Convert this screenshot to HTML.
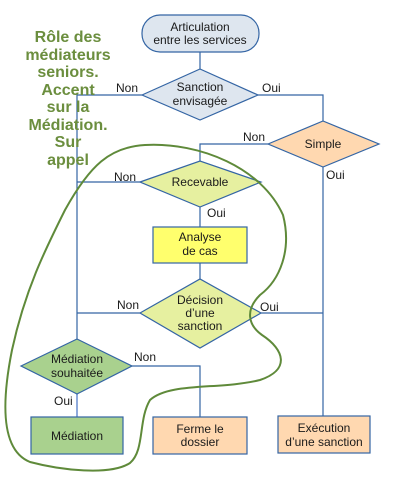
<!DOCTYPE html>
<html><head><meta charset="utf-8"><style>
body{margin:0;background:#fff;}
svg{display:block;font-family:"Liberation Sans",sans-serif;}
</style></head><body>
<svg width="400" height="484" viewBox="0 0 400 484" xmlns="http://www.w3.org/2000/svg">
<g stroke="#3465a4" stroke-width="1.2" fill="none">
<path d="M200 52V69M142 95H77V339M258 95H323V121M268 144H200V161M323 167V416M140 182H77M200 207V227M200 263V279M140 313H77M261 313H323M132 366H200V417"/>
<path d="M77 394V417" stroke="#8faadc" stroke-width="2"/>
</g>
<g stroke="#3465a4" stroke-width="1.2">
<rect x="142" y="15" width="117" height="37" rx="18" fill="#dee6ef"/>
<polygon points="142,95 200,69 258,95 200,120" fill="#dee6ef"/>
<polygon points="268,144 323,121 379,144 323,167" fill="#ffd8b0"/>
<polygon points="140,182 200,161 261,182 200,207" fill="#e6f0a0"/>
<rect x="153" y="227" width="94" height="36" fill="#ffff6d"/>
<polygon points="140,313 200,279 261,313 200,348" fill="#e6f0a0"/>
<polygon points="21,366 77,339 132,366 77,394" fill="#a9d18e"/>
<rect x="31" y="417" width="92" height="37" fill="#a9d18e"/>
<rect x="153" y="417" width="94" height="37" fill="#ffd8b0"/>
<rect x="278" y="416" width="92" height="37" fill="#ffd8b0"/>
</g>
<g font-size="12" fill="#1a1a1a" text-anchor="middle">
<text x="200" y="31">Articulation</text><text x="200" y="44">entre les services</text>
<text x="200" y="91">Sanction</text><text x="200" y="105">envisagée</text>
<text x="323" y="148">Simple</text>
<text x="200" y="186">Recevable</text>
<text x="200" y="241">Analyse</text><text x="200" y="255">de cas</text>
<text x="200" y="304">Décision</text><text x="200" y="317">d’une</text><text x="200" y="330">sanction</text>
<text x="77" y="363">Médiation</text><text x="77" y="377">souhaitée</text>
<text x="77" y="440">Médiation</text>
<text x="200" y="433">Ferme le</text><text x="200" y="446">dossier</text>
<text x="324" y="432">Exécution</text><text x="324" y="446">d’une sanction</text>
</g>
<g font-size="12" fill="#1a1a1a">
<text x="116" y="92">Non</text><text x="262" y="92">Oui</text>
<text x="243" y="141">Non</text><text x="326" y="179">Oui</text>
<text x="114" y="181">Non</text><text x="207" y="217">Oui</text>
<text x="117" y="309">Non</text><text x="260" y="311">Oui</text>
<text x="134" y="361">Non</text><text x="54" y="405">Oui</text>
</g>
<path d="M145 145C200 142 262 168 283 215C292 250 280 280 260 295C245 310 248 325 262 335C285 350 290 370 260 380C220 390 170 382 150 400C138 420 145 450 130 463C110 476 60 470 30 462C0 450 2 400 12 350C25 290 45 250 65 210C90 165 110 147 145 145Z" fill="none" stroke="#5f8a3a" stroke-width="2"/>
<g font-size="16" font-weight="bold" fill="#6b8e3e" text-anchor="middle">
<text x="68" y="42">Rôle des</text><text x="68" y="60">médiateurs</text><text x="68" y="77">seniors.</text>
<text x="68" y="95">Accent</text><text x="68" y="112">sur la</text><text x="68" y="130">Médiation.</text>
<text x="68" y="147">Sur</text><text x="68" y="165">appel</text>
</g>
</svg>
</body></html>
